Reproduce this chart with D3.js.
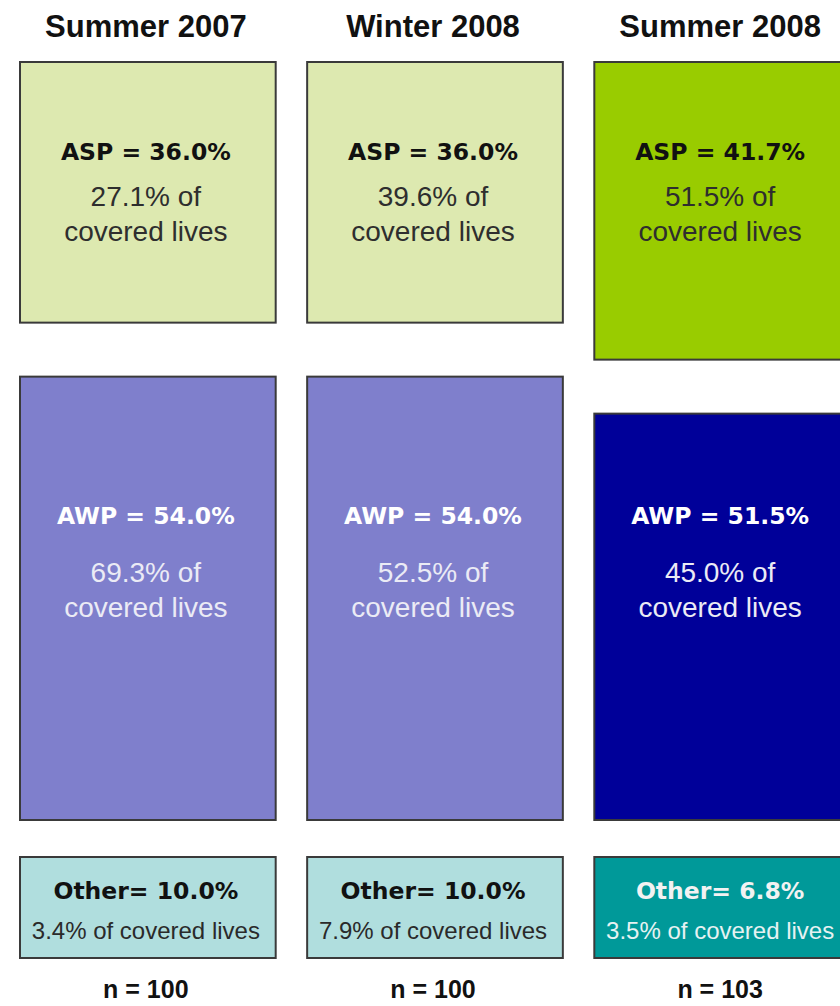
<!DOCTYPE html>
<html>
<head>
<meta charset="utf-8">
<script src="https://cdn.jsdelivr.net/npm/d3@7"></script>
<style>
    html, body { margin: 0; padding: 0; background: #fff; }
    svg { display: block; }
</style>
</head>
<body>
<svg width="840" height="1006"></svg>
<script>
/////////////////////////////////
// Pricing basis by survey wave.
//

const periods = ["Summer 2007", "Winter 2008", "Summer 2008"];
const aspShare = [36.0, 36.0, 41.7];
const aspLives = [27.1, 39.6, 51.5];
const awpShare = [54.0, 54.0, 51.5];
const awpLives = [69.3, 52.5, 45.0];
const otherShare = [10.0, 10.0, 6.8];
const otherLives = [3.4, 7.9, 3.5];
const sampleN = [100, 100, 103];

document.addEventListener("DOMContentLoaded", () => {

    const svg = d3.select("svg");

    const boldLabel = "'DejaVu Sans', Verdana, sans-serif";
    const plain = "'Liberation Sans', Arial, sans-serif";

    // Columns.
    const x = d3.scaleBand()
        .domain(periods)
        .range([20, 852])
        .paddingInner(0.1026)
        .paddingOuter(0);

    // Box heights (ASP on top, AWP fills down to the fixed bottom).
    const aspHeight = d3.scaleLinear().domain([0, 100]).range([27, 676]);
    const top = 62;
    const gap = 54;
    const awpBottom = 820;
    const otherTop = 857;
    const otherBottom = 958;

    const fmt = d3.format(".1f");

    const columns = periods.map((p, i) => {

        const latest = i === periods.length - 1;
        const aspBottom = top + aspHeight(aspShare[i]);
        return {
            period: p,
            cx: x(p) + x.bandwidth() / 2 - 3,
            aspBottom: aspBottom,
            awpTop: aspBottom + gap,
            aspFill: latest ? "#99cc00" : "#dde9b0",
            awpFill: latest ? "#000099" : "#7f7fcc",
            otherFill: latest ? "#009999" : "#b0dede",
            otherText: latest ? "#f2f2f2" : "#111",
            otherSub: latest ? "#e6f2f2" : "#2a2a2a",
            i: i
        };
    });

    // Headers.
    svg.selectAll(".header")
        .data(columns)
        .enter()
        .append("text")
        .attr("class", "header")
        .attr("x", (d) => d.cx)
        .attr("y", 37)
        .attr("text-anchor", "middle")
        .style("font-family", plain)
        .style("font-weight", "bold")
        .style("font-size", "31px")
        .style("fill", "#111")
        .text((d) => d.period);

    const box = (cls, y0, y1, fill) => {

        svg.selectAll("." + cls)
            .data(columns)
            .enter()
            .append("rect")
            .attr("class", cls)
            .attr("x", (d) => x(d.period))
            .attr("y", (d) => y0(d))
            .attr("width", x.bandwidth() - 2)
            .attr("height", (d) => y1(d) - y0(d))
            .style("fill", fill)
            .style("stroke", "#3a3a3a")
            .style("stroke-width", "2px");
    };

    box("asp", () => top, (d) => d.aspBottom, (d) => d.aspFill);
    box("awp", (d) => d.awpTop, () => awpBottom, (d) => d.awpFill);
    box("other", () => otherTop, () => otherBottom, (d) => d.otherFill);

    const label = (y, size, family, weight, color, text) => {

        svg.append("g")
            .selectAll("text")
            .data(columns)
            .enter()
            .append("text")
            .attr("x", (d) => d.cx)
            .attr("y", y)
            .attr("text-anchor", "middle")
            .style("font-family", family)
            .style("font-weight", weight)
            .style("font-size", size)
            .style("fill", color)
            .text(text);
    };

    // ASP.
    label(160, "23.5px", boldLabel, "bold", "#111", (d) => "ASP = " + fmt(aspShare[d.i]) + "%");
    label(206, "28px", plain, "normal", "#2e2e2e", (d) => fmt(aspLives[d.i]) + "% of");
    label(241, "28px", plain, "normal", "#2e2e2e", "covered lives");

    // AWP.
    label(524, "23.5px", boldLabel, "bold", "#fff", (d) => "AWP = " + fmt(awpShare[d.i]) + "%");
    label(582, "28px", plain, "normal", "#ebebf5", (d) => fmt(awpLives[d.i]) + "% of");
    label(617, "28px", plain, "normal", "#ebebf5", "covered lives");

    // Other.
    label(899, "23.5px", boldLabel, "bold", (d) => d.otherText, (d) => "Other= " + fmt(otherShare[d.i]) + "%");
    label(939, "24px", plain, "normal", (d) => d.otherSub, (d) => fmt(otherLives[d.i]) + "% of covered lives");

    // Sample size.
    label(998, "25px", plain, "bold", "#111", (d) => "n = " + sampleN[d.i]);
});
</script>
</body>
</html>
